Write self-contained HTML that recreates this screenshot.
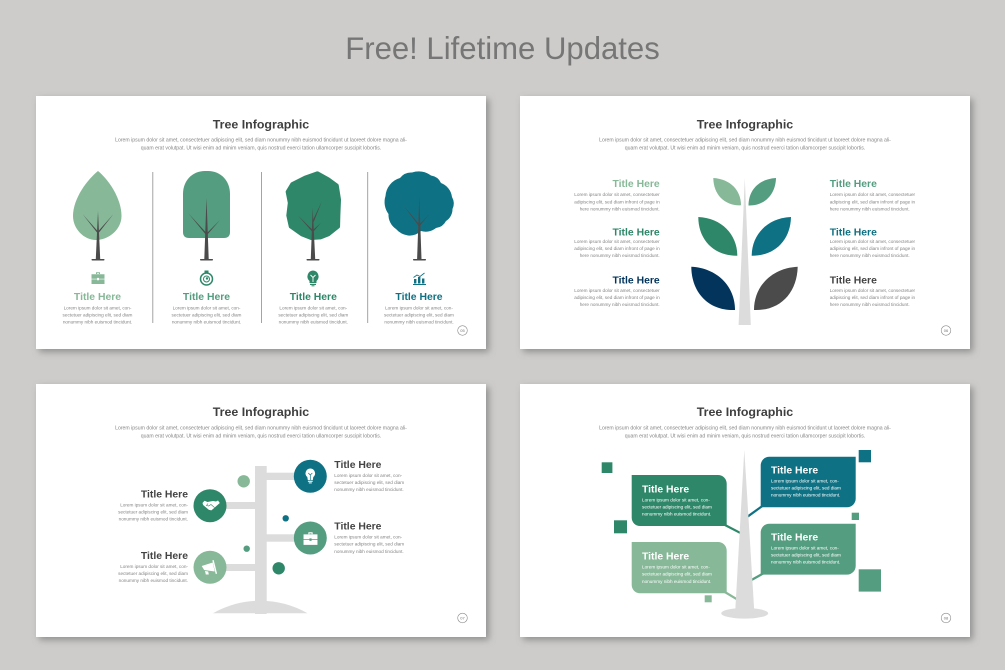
<!DOCTYPE html>
<html><head><meta charset="utf-8"><style>
html,body{margin:0;padding:0;background:#cdccca}
svg{display:block}
text{font-family:"Liberation Sans",sans-serif}
.h{font-size:12.4px;font-weight:bold;fill:#3f3f3f;text-anchor:middle}
.s{font-size:5.16px;fill:#858585;text-anchor:middle}
.t{font-size:10.4px;font-weight:bold}
.b{font-size:4.67px;fill:#858585}
.m{text-anchor:middle}.e{text-anchor:end}
.w{fill:#fff}
.n{font-size:4px;fill:#777;text-anchor:middle}
</style></head><body>
<svg width="1005" height="670" viewBox="0 0 1005 670" xmlns="http://www.w3.org/2000/svg">
<defs>
<filter id="sh" x="-5%" y="-5%" width="112%" height="115%"><feDropShadow dx="3" dy="3" stdDeviation="3.5" flood-color="#777" flood-opacity=".7"/></filter>
<symbol id="case" viewBox="0 0 14 14" overflow="visible"><path d="M5 3V1.200h4V3h-1V2.200H6V3z"/><path d="M.5 3.200h13v4.500H8v-.8H6v.8H.5z"/><path d="M.5 8.400H6v.8h2v-.8h5.500v4.600H.5z"/></symbol>
</defs>
<rect width="1005" height="670" fill="#cdccca"/>
<text x="502.500" y="59" text-anchor="middle" font-size="31.100" fill="#767676">Free! Lifetime Updates</text>

<g filter="url(#sh)" fill="#fff"><rect x="36" y="96" width="450" height="253"/><rect x="520" y="96" width="450" height="253"/><rect x="36" y="384" width="450" height="253"/><rect x="520" y="384" width="450" height="253"/></g>

<!-- headers -->
<text class="h" x="261" y="128.500">Tree Infographic</text>
<text class="s" x="261" y="141.500">Lorem ipsum dolor sit amet, consectetuer adipiscing elit, sed diam nonummy nibh euismod tincidunt ut laoreet dolore magna ali-</text>
<text class="s" x="261" y="149.500">quam erat volutpat. Ut wisi enim ad minim veniam, quis nostrud exerci tation ullamcorper suscipit lobortis.</text>
<text class="h" x="745" y="128.500">Tree Infographic</text>
<text class="s" x="745" y="141.500">Lorem ipsum dolor sit amet, consectetuer adipiscing elit, sed diam nonummy nibh euismod tincidunt ut laoreet dolore magna ali-</text>
<text class="s" x="745" y="149.500">quam erat volutpat. Ut wisi enim ad minim veniam, quis nostrud exerci tation ullamcorper suscipit lobortis.</text>
<text class="h" x="261" y="416">Tree Infographic</text>
<text class="s" x="261" y="429.500">Lorem ipsum dolor sit amet, consectetuer adipiscing elit, sed diam nonummy nibh euismod tincidunt ut laoreet dolore magna ali-</text>
<text class="s" x="261" y="437.500">quam erat volutpat. Ut wisi enim ad minim veniam, quis nostrud exerci tation ullamcorper suscipit lobortis.</text>
<text class="h" x="745" y="416">Tree Infographic</text>
<text class="s" x="745" y="429.500">Lorem ipsum dolor sit amet, consectetuer adipiscing elit, sed diam nonummy nibh euismod tincidunt ut laoreet dolore magna ali-</text>
<text class="s" x="745" y="437.500">quam erat volutpat. Ut wisi enim ad minim veniam, quis nostrud exerci tation ullamcorper suscipit lobortis.</text>

<!-- page numbers -->
<g fill="none" stroke="#8a8a8a" stroke-width=".6"><circle cx="462.500" cy="330.500" r="4.800"/><circle cx="946" cy="330.500" r="4.800"/><circle cx="462.500" cy="618" r="4.800"/><circle cx="946" cy="618" r="4.800"/></g>
<text class="n" x="462.500" y="332">05</text><text class="n" x="946" y="332">06</text><text class="n" x="462.500" y="619.500">07</text><text class="n" x="946" y="619.500">08</text>

<!-- SLIDE 1 -->
<g stroke="#9a9a9a" stroke-width=".9"><line x1="152.800" y1="172" x2="152.800" y2="323"/><line x1="261.500" y1="172" x2="261.500" y2="323"/><line x1="367.700" y1="172" x2="367.700" y2="323"/></g>
<path d="M98 171C108 179 121.500 198 121.500 216C121.500 230 108 240 96 240C84 240 73 229 73 216C73 198 88 179 98 171Z" fill="#87b898"/>
<path d="M205 171h3C221 171 230 181 230 194V232Q230 238 224 238H189Q183 238 183 232V194C183 181 192 171 205 171Z" fill="#559d80"/>
<path transform="translate(313 206) scale(.95) translate(-313 -206)" d="M317.700 171.300L329.300 177.700L338.300 184.300L340.700 199.300L340 216L339.700 227.700L329.300 236L321 239.300L311 240L301 236L289.300 227.700L286.700 216L288.300 202.700L286 191L291 182.700L304.300 176Z" fill="#2f8769" stroke="#2f8769" stroke-linejoin="round" stroke-width="3.600"/>
<path d="M385.500 196A20 20 0 0 1 400 178A14 14 0 0 1 412 172.500A20 20 0 0 1 431 175.500A13 13 0 0 1 441 183A17 17 0 0 1 452 197A13 13 0 0 1 452.500 209A14 14 0 0 1 446 221A13 13 0 0 1 436 228A16 16 0 0 1 421 231A17 17 0 0 1 408 235.500A20 20 0 0 1 396 229A17 17 0 0 1 388.500 214A20 20 0 0 1 385.500 196Z" fill="#0f7284"/>
<g fill="#4b4b4b">
<path d="M98 211L100.200 259H95.800Z"/><path d="M82.700 214.300L98 231.500L97.200 232.800Z"/><path d="M113.300 214.300L98.800 232.800L98 231.500Z"/><rect x="91.500" y="259" width="13" height="1.500" rx=".7"/>
<path d="M206.500 197.700L208.700 259H204.300Z"/><path d="M188.300 213.300L206.500 233L205.700 234.500Z"/><path d="M220 220L207 235L206.500 233.500Z"/><rect x="200" y="259" width="13" height="1.500" rx=".7"/>
<path d="M312.700 207.700L315.200 259H310.800Z"/><path d="M297.700 215.300L312.700 230L312 231.500Z"/><path d="M322 201L313.700 222L313 220Z"/><path d="M321 222.700L313.500 231.500L313 230Z"/><rect x="306.500" y="259" width="13" height="1.500" rx=".7"/>
<path d="M419.300 196L421.500 259H417.100Z"/><path d="M403.300 205.300L419.500 224.500L418.700 226Z"/><path d="M429.300 214.300L419.700 226L419.200 224.500Z"/><rect x="413" y="259" width="13" height="1.500" rx=".7"/>
</g>
<!-- icons row -->
<use href="#case" x="91" y="271" width="14" height="14" fill="#87b898"/>
<g fill="none" stroke="#2f8769"><circle cx="206.500" cy="279" r="6" stroke-width="1.500"/><circle cx="206.500" cy="279" r="3" stroke-width="1"/></g><rect x="204.500" y="270.500" width="4" height="2.500" fill="#2f8769"/><circle cx="207" cy="278.500" r="1.200" fill="#2f8769"/>
<path d="M313 270.500a6 6 0 0 1 3.500 10.500V283h-7V281A6 6 0 0 1 313 270.500Z" fill="#2f8769"/><path d="M310.500 275l2.500 2.500 2.500-2.500M313 277v5" stroke="#fff" fill="none" stroke-width=".9"/><rect x="310" y="283.800" width="6" height="1.200" fill="#2f8769"/><rect x="311.500" y="285.300" width="3" height="1" fill="#2f8769"/>
<g fill="#0f7284"><rect x="413" y="284" width="13" height="1"/><rect x="414" y="279" width="2.400" height="4.500"/><rect x="418" y="277" width="2.400" height="6.500"/><rect x="422" y="278.500" width="2.400" height="5"/></g><path d="M413.500 277.500l3.500-2.500 3 1.500 4.500-3.500" stroke="#0f7284" stroke-width=".9" fill="none"/>

<text class="t m" x="97.500" y="300.200" fill="#87b898">Title Here</text>
<text class="t m" x="206.500" y="300.200" fill="#559d80">Title Here</text>
<text class="t m" x="313.300" y="300.200" fill="#2f8769">Title Here</text>
<text class="t m" x="419" y="300.200" fill="#0f7284">Title Here</text>
<text class="b m" x="97.500" y="309.500">Lorem ipsum dolor sit amet, con-</text><text class="b m" x="97.500" y="316.500">sectetuer adipiscing elit, sed diam</text><text class="b m" x="97.500" y="323.500">nonummy nibh euismod tincidunt.</text>
<text class="b m" x="206.500" y="309.500">Lorem ipsum dolor sit amet, con-</text><text class="b m" x="206.500" y="316.500">sectetuer adipiscing elit, sed diam</text><text class="b m" x="206.500" y="323.500">nonummy nibh euismod tincidunt.</text>
<text class="b m" x="313.300" y="309.500">Lorem ipsum dolor sit amet, con-</text><text class="b m" x="313.300" y="316.500">sectetuer adipiscing elit, sed diam</text><text class="b m" x="313.300" y="323.500">nonummy nibh euismod tincidunt.</text>
<text class="b m" x="419" y="309.500">Lorem ipsum dolor sit amet, con-</text><text class="b m" x="419" y="316.500">sectetuer adipiscing elit, sed diam</text><text class="b m" x="419" y="323.500">nonummy nibh euismod tincidunt.</text>

<!-- SLIDE 2 -->
<path d="M744.800 178L750.800 325H738.600Z" fill="#dcdcdc"/>
<path d="M713.300 178C730 179 741 190 741 205.300C725 206 713.500 195 713.300 178Z" fill="#87b898"/>
<path d="M776 178C759 179 748.500 190 748.500 205.500C764 206 775.500 195 776 178Z" fill="#559d80"/>
<path d="M698.300 217C722 218 737.300 235 737.300 255.700C714 256 698.300 240 698.300 217Z" fill="#2f8769"/>
<path d="M791 217C767 218 751.700 235 751.700 255.700C775 256 790.500 240 791 217Z" fill="#0f7284"/>
<path d="M691.300 266.700C717 268 735 286 735 310C709 311 691.500 293 691.300 266.700Z" fill="#03355c"/>
<path d="M797.700 266.700C772 268 754 286 754 310C780 311 797 293 797.700 266.700Z" fill="#4b4b4b"/>
<text class="t e" x="659.700" y="187" fill="#87b898">Title Here</text>
<text class="t e" x="659.700" y="235.300" fill="#2f8769">Title Here</text>
<text class="t e" x="659.700" y="283.300" fill="#03355c">Title Here</text>
<text class="b e" x="659.700" y="196">Lorem ipsum dolor sit amet, consectetuer</text><text class="b e" x="659.700" y="203.300">adipiscing elit, sed diam infront of page in</text><text class="b e" x="659.700" y="210.300">here nonummy nibh euismod tincidunt.</text>
<text class="b e" x="659.700" y="243">Lorem ipsum dolor sit amet, consectetuer</text><text class="b e" x="659.700" y="250">adipiscing elit, sed diam infront of page in</text><text class="b e" x="659.700" y="257">here nonummy nibh euismod tincidunt.</text>
<text class="b e" x="659.700" y="292">Lorem ipsum dolor sit amet, consectetuer</text><text class="b e" x="659.700" y="299">adipiscing elit, sed diam infront of page in</text><text class="b e" x="659.700" y="306">here nonummy nibh euismod tincidunt.</text>
<text class="t" x="829.700" y="187" fill="#559d80">Title Here</text>
<text class="t" x="829.700" y="235.300" fill="#0f7284">Title Here</text>
<text class="t" x="829.700" y="283.300" fill="#444">Title Here</text>
<text class="b" x="829.700" y="196">Lorem ipsum dolor sit amet, consectetuer</text><text class="b" x="829.700" y="203.300">adipiscing elit, sed diam infront of page in</text><text class="b" x="829.700" y="210.300">here nonummy nibh euismod tincidunt.</text>
<text class="b" x="829.700" y="243">Lorem ipsum dolor sit amet, consectetuer</text><text class="b" x="829.700" y="250">adipiscing elit, sed diam infront of page in</text><text class="b" x="829.700" y="257">here nonummy nibh euismod tincidunt.</text>
<text class="b" x="829.700" y="292">Lorem ipsum dolor sit amet, consectetuer</text><text class="b" x="829.700" y="299">adipiscing elit, sed diam infront of page in</text><text class="b" x="829.700" y="306">here nonummy nibh euismod tincidunt.</text>

<!-- SLIDE 3 -->
<g fill="#dcdcdc">
<rect x="255" y="466" width="11.700" height="148"/>
<path d="M213 613.300A95 95 0 0 1 307.500 613.300Z"/>
<rect x="266" y="472.700" width="30" height="7.300"/><rect x="224" y="502" width="32" height="7"/><rect x="266" y="534.300" width="30" height="7.400"/><rect x="224" y="564" width="32" height="7"/>
</g>
<circle cx="310.300" cy="476.300" r="16.500" fill="#0f7284"/><circle cx="210" cy="505.700" r="16.500" fill="#2f8769"/><circle cx="310.300" cy="538" r="16.500" fill="#559d80"/><circle cx="210" cy="567.300" r="16.500" fill="#87b898"/>
<circle cx="243.700" cy="481.300" r="6.200" fill="#87b898"/><circle cx="285.700" cy="518.300" r="3.200" fill="#0f7284"/><circle cx="246.700" cy="548.700" r="3.200" fill="#559d80"/><circle cx="278.700" cy="568.300" r="6.200" fill="#2f8769"/>
<!-- icons -->
<path d="M310.300 468.500a4.800 4.800 0 0 1 3 8.500l-.5 3h-5l-.5-3a4.800 4.800 0 0 1 3-8.500Z" fill="#fff"/><path d="M308.300 473l2 2 2-2M310.300 475v5" stroke="#0f7284" fill="none" stroke-width=".7"/><rect x="307.900" y="480.700" width="4.800" height="1.100" fill="#fff"/><rect x="308.800" y="482.400" width="3" height="1" fill="#fff"/>
<path d="M202.500 503l2-2.200 3 1.200 2.500-.5 3-.5 3 .5 2-1 1.800 2.500-2 1.800-4.500 4-2 1.600-2.500-.6-3-2.500-2.700-2.300Z" fill="#fff"/><path d="M208 503.500l-1.500 2 2 .5 2.500-1.500 3.500 3" stroke="#2f8769" stroke-width=".6" fill="none"/>
<use href="#case" x="303" y="531" width="15" height="15" fill="#fff"/>
<path d="M201.700 566l11-3.500 2 9-10.500-1.500Z" fill="#fff"/><rect x="214" y="560" width="1.400" height="14" fill="#fff" transform="rotate(-14 214.700 567)"/><path d="M205 571l.8 3.500h3l-.6-3Z" fill="#fff"/>
<text class="t" x="334.300" y="468" fill="#444">Title Here</text><text class="t" x="334.300" y="529.500" fill="#444">Title Here</text>
<text class="t e" x="188" y="497.500" fill="#444">Title Here</text><text class="t e" x="188" y="559" fill="#444">Title Here</text>
<text class="b" x="334.300" y="477">Lorem ipsum dolor sit amet, con-</text><text class="b" x="334.300" y="484">sectetuer adipiscing elit, sed diam</text><text class="b" x="334.300" y="491">nonummy nibh euismod tincidunt.</text>
<text class="b" x="334.300" y="538.700">Lorem ipsum dolor sit amet, con-</text><text class="b" x="334.300" y="545.700">sectetuer adipiscing elit, sed diam</text><text class="b" x="334.300" y="553">nonummy nibh euismod tincidunt.</text>
<text class="b e" x="188" y="506.500">Lorem ipsum dolor sit amet, con-</text><text class="b e" x="188" y="513.500">sectetuer adipiscing elit, sed diam</text><text class="b e" x="188" y="520.500">nonummy nibh euismod tincidunt.</text>
<text class="b e" x="188" y="568">Lorem ipsum dolor sit amet, con-</text><text class="b e" x="188" y="575">sectetuer adipiscing elit, sed diam</text><text class="b e" x="188" y="582">nonummy nibh euismod tincidunt.</text>

<!-- SLIDE 4 -->
<g stroke-width="2.200" fill="none"><line x1="724" y1="524.500" x2="741" y2="533.300" stroke="#2f8769"/><line x1="763" y1="505.500" x2="747.500" y2="516.700" stroke="#0f7284"/><line x1="724" y1="591.500" x2="737" y2="599.300" stroke="#87b898"/><line x1="764" y1="573" x2="751.500" y2="580" stroke="#559d80"/></g>
<path d="M744.300 450L754.200 610H735.300Z" fill="#dcdcdc"/>
<ellipse cx="744.700" cy="613.300" rx="23.500" ry="5.300" fill="#dcdcdc"/>
<path d="M631.700 475H718a8.700 8.700 0 0 1 8.700 8.700V526H640a8.300 8.300 0 0 1-8.300-8.300Z" fill="#2f8769"/>
<path d="M769.400 456.700H855.700V498.600a8.700 8.700 0 0 1-8.700 8.700H760.700V465.400a8.700 8.700 0 0 1 8.700-8.700Z" fill="#0f7284"/>
<path d="M631.700 542H718a8.700 8.700 0 0 1 8.700 8.700V593.300H640a8.300 8.300 0 0 1-8.300-8.300Z" fill="#87b898"/>
<path d="M769.400 523.700H855.700V565.900a8.700 8.700 0 0 1-8.700 8.700H760.700V532.400a8.700 8.700 0 0 1 8.700-8.700Z" fill="#559d80"/>
<rect x="601.700" y="462.300" width="10.700" height="10.700" fill="#2f8769"/><rect x="614" y="520.300" width="13" height="13" fill="#2f8769"/><rect x="704.700" y="595.300" width="7" height="7" fill="#87b898"/><rect x="858.700" y="450" width="12.300" height="12.300" fill="#0f7284"/><rect x="851.700" y="512.700" width="7.300" height="7.300" fill="#559d80"/><rect x="858.700" y="569.300" width="22.300" height="22.300" fill="#559d80"/>
<text class="t w" x="642" y="492.300">Title Here</text><text class="b w" x="642" y="501.500">Lorem ipsum dolor sit amet, con-</text><text class="b w" x="642" y="508.500">sectetuer adipiscing elit, sed diam</text><text class="b w" x="642" y="515.500">nonummy nibh euismod tincidunt.</text>
<text class="t w" x="771" y="473.500">Title Here</text><text class="b w" x="771" y="482.400">Lorem ipsum dolor sit amet, con-</text><text class="b w" x="771" y="489.500">sectetuer adipiscing elit, sed diam</text><text class="b w" x="771" y="496.500">nonummy nibh euismod tincidunt.</text>
<text class="t w" x="642" y="559.300">Title Here</text><text class="b w" x="642" y="568.700">Lorem ipsum dolor sit amet, con-</text><text class="b w" x="642" y="575.700">sectetuer adipiscing elit, sed diam</text><text class="b w" x="642" y="583">nonummy nibh euismod tincidunt.</text>
<text class="t w" x="771" y="540.500">Title Here</text><text class="b w" x="771" y="549.400">Lorem ipsum dolor sit amet, con-</text><text class="b w" x="771" y="556.700">sectetuer adipiscing elit, sed diam</text><text class="b w" x="771" y="563.700">nonummy nibh euismod tincidunt.</text>
</svg>
</body></html>
